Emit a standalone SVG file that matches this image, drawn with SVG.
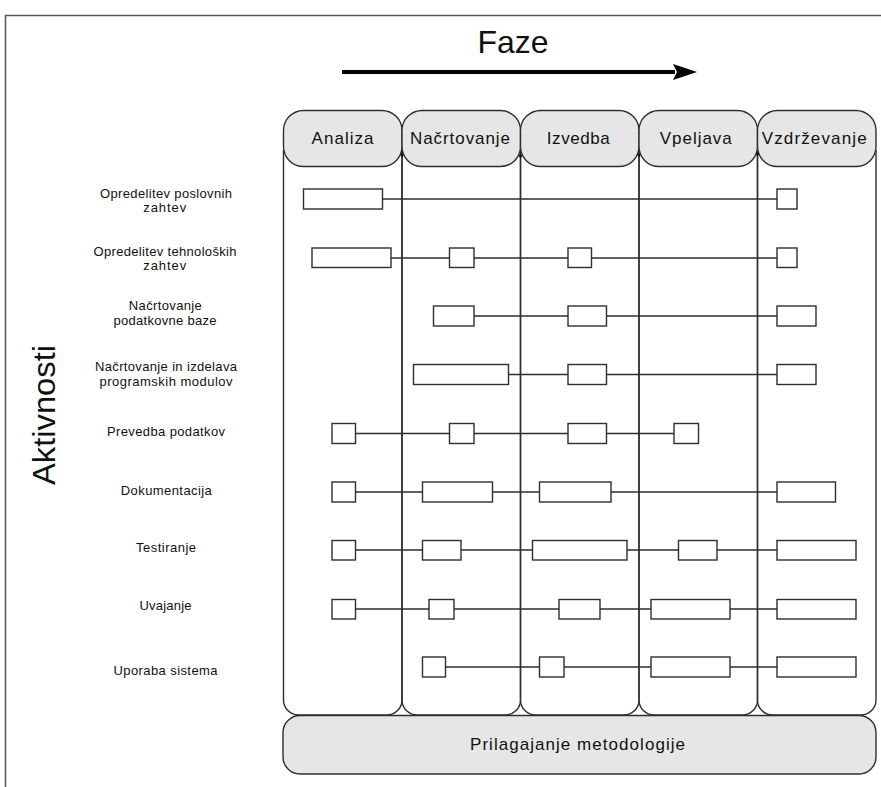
<svg xmlns="http://www.w3.org/2000/svg" width="881" height="787" viewBox="0 0 881 787">
<style>
.ln{fill:none;stroke:#2e2e2e;stroke-width:1.4}
.hdr{fill:#e6e6e6;stroke:#2e2e2e;stroke-width:1.4}
.bar{fill:#ffffff;stroke:#2e2e2e;stroke-width:1.4}
.con{stroke:#2e2e2e;stroke-width:1.4;fill:none}
.lbl{font-family:"Liberation Sans",Arial,sans-serif;font-size:13px;fill:#111;text-anchor:middle}
.ph{font-family:"Liberation Sans",Arial,sans-serif;font-size:17px;fill:#111;text-anchor:middle}
.big{font-family:"Liberation Sans",Arial,sans-serif;font-size:32px;fill:#111;text-anchor:middle}
.dot{fill:#111}
</style>
<defs>
<marker id="ah" viewBox="0 0 24 16" refX="2" refY="8" markerWidth="24" markerHeight="16" markerUnits="userSpaceOnUse" orient="auto">
<path d="M0,0 L24,8 L0,16 L4,8 Z" fill="#000"/>
</marker>
</defs>
<rect x="0" y="0" width="881" height="787" fill="#fff"/>
<path d="M5.5,787 V15.5 H881" fill="none" stroke="#555" stroke-width="1.5"/>

<g id="title">
<text class="big" x="513" y="53" textLength="71" lengthAdjust="spacingAndGlyphs">Faze</text>
<path d="M342,72 H675" stroke="#000" stroke-width="4" marker-end="url(#ah)"/>
</g>
<g id="axis-label">
<text class="big" transform="translate(55,415) rotate(-90)" textLength="140" lengthAdjust="spacingAndGlyphs">Aktivnosti</text>
</g>

<g id="columns">
<path class="ln" d="M283.5,150 V700 A15,15 0 0 0 298.5,715 H387 A15,15 0 0 0 402,700 V150"/>
<path class="ln" d="M402,150 V700 A15,15 0 0 0 417,715 H505.5 A15,15 0 0 0 520.5,700 V150"/>
<path class="ln" d="M520.5,150 V700 A15,15 0 0 0 535.5,715 H624 A15,15 0 0 0 639,700 V150"/>
<path class="ln" d="M639,150 V700 A15,15 0 0 0 654,715 H742.5 A15,15 0 0 0 757.5,700 V150"/>
<path class="ln" d="M757.5,150 V700 A15,15 0 0 0 772.5,715 H861 A15,15 0 0 0 876,700 V150"/>
</g>

<g id="phase-analiza">
<rect class="hdr" x="283.5" y="110.5" width="118.5" height="56" rx="20"/>
<text class="ph" x="342.5" y="144" textLength="62" lengthAdjust="spacing">Analiza</text>
</g>
<g id="phase-nacrtovanje">
<rect class="hdr" x="402" y="110.5" width="118.5" height="56" rx="20"/>
<text class="ph" x="460" y="144" textLength="100" lengthAdjust="spacing">Načrtovanje</text>
</g>
<g id="phase-izvedba">
<rect class="hdr" x="520.5" y="110.5" width="118.5" height="56" rx="20"/>
<text class="ph" x="578.3" y="144" textLength="63" lengthAdjust="spacing">Izvedba</text>
</g>
<g id="phase-vpeljava">
<rect class="hdr" x="639" y="110.5" width="118.5" height="56" rx="20"/>
<text class="ph" x="695.8" y="144" textLength="72" lengthAdjust="spacing">Vpeljava</text>
</g>
<g id="phase-vzdrzevanje">
<rect class="hdr" x="757.5" y="110.5" width="118.5" height="56" rx="20"/>
<text class="ph" x="814.2" y="144" textLength="105" lengthAdjust="spacing">Vzdrževanje</text>
</g>
<g id="junction-dots">
<circle class="dot" cx="402" cy="155" r="1.6"/>
<circle class="dot" cx="520.5" cy="156" r="1.6"/>
<circle class="dot" cx="639" cy="155" r="1.6"/>
<circle class="dot" cx="757.5" cy="154" r="1.6"/>
</g>

<g id="methodology">
<rect class="hdr" x="283" y="715.5" width="593" height="58.5" rx="17"/>
<text class="ph" x="577.5" y="750" textLength="215" lengthAdjust="spacing">Prilagajanje metodologije</text>
</g>

<g id="labels">
<g id="label-1"><text class="lbl" x="166" y="198" textLength="132" lengthAdjust="spacing">Opredelitev poslovnih</text><text class="lbl" x="164.7" y="212" textLength="43" lengthAdjust="spacing">zahtev</text></g>
<g id="label-2"><text class="lbl" x="165" y="256" textLength="143" lengthAdjust="spacing">Opredelitev tehnoloških</text><text class="lbl" x="164.7" y="270" textLength="43" lengthAdjust="spacing">zahtev</text></g>
<g id="label-3"><text class="lbl" x="165.3" y="310" textLength="73" lengthAdjust="spacing">Načrtovanje</text><text class="lbl" x="165" y="325" textLength="103" lengthAdjust="spacing">podatkovne baze</text></g>
<g id="label-4"><text class="lbl" x="166" y="371" textLength="142" lengthAdjust="spacing">Načrtovanje in izdelava</text><text class="lbl" x="166" y="386" textLength="133" lengthAdjust="spacing">programskih modulov</text></g>
<g id="label-5"><text class="lbl" x="166" y="436" textLength="118" lengthAdjust="spacing">Prevedba podatkov</text></g>
<g id="label-6"><text class="lbl" x="166.3" y="495" textLength="91" lengthAdjust="spacing">Dokumentacija</text></g>
<g id="label-7"><text class="lbl" x="166" y="552" textLength="60" lengthAdjust="spacing">Testiranje</text></g>
<g id="label-8"><text class="lbl" x="165.5" y="610" textLength="52" lengthAdjust="spacing">Uvajanje</text></g>
<g id="label-9"><text class="lbl" x="165.5" y="675" textLength="104" lengthAdjust="spacing">Uporaba sistema</text></g>
</g>

<g id="connectors">
<path class="con" d="M382.5,199 H777"/>
<path class="con" d="M391,258 H449.5 M474,258 H568 M591.5,258 H777"/>
<path class="con" d="M474,316 H568 M606.5,316 H777"/>
<path class="con" d="M508.5,374.5 H568 M606.5,374.5 H777"/>
<path class="con" d="M355.5,433.5 H449.5 M474,433.5 H568 M606.5,433.5 H674"/>
<path class="con" d="M355.5,492 H422.5 M492.5,492 H539.5 M611,492 H777"/>
<path class="con" d="M355.5,550 H422.5 M461,550 H532.5 M627,550 H678.5 M717,550 H777"/>
<path class="con" d="M355.5,609 H429 M454,609 H559 M600,609 H651 M730,609 H777"/>
<path class="con" d="M445.5,667 H539.5 M564,667 H651 M730,667 H777"/>
</g>

<g id="bars-1"><rect class="bar" x="303.5" y="189" width="79" height="20"/><rect class="bar" x="777" y="189" width="20" height="20"/></g>
<g id="bars-2"><rect class="bar" x="312" y="248" width="79" height="19.5"/><rect class="bar" x="449.5" y="248" width="24.5" height="19.5"/><rect class="bar" x="568" y="248" width="23.5" height="19.5"/><rect class="bar" x="777" y="248" width="20" height="19.5"/></g>
<g id="bars-3"><rect class="bar" x="433.5" y="306" width="40.5" height="20"/><rect class="bar" x="568" y="306" width="38.5" height="20"/><rect class="bar" x="777" y="306" width="39" height="20"/></g>
<g id="bars-4"><rect class="bar" x="413.5" y="364.5" width="95" height="20"/><rect class="bar" x="568" y="364.5" width="38.5" height="20"/><rect class="bar" x="777" y="364.5" width="39" height="20"/></g>
<g id="bars-5"><rect class="bar" x="332" y="423.5" width="23.5" height="20"/><rect class="bar" x="449.5" y="423.5" width="24.5" height="20"/><rect class="bar" x="568" y="423.5" width="38.5" height="20"/><rect class="bar" x="674" y="423.5" width="24.5" height="20"/></g>
<g id="bars-6"><rect class="bar" x="332" y="482" width="23.5" height="20"/><rect class="bar" x="422.5" y="482" width="70" height="20"/><rect class="bar" x="539.5" y="482" width="71.5" height="20"/><rect class="bar" x="777" y="482" width="58.5" height="20"/></g>
<g id="bars-7"><rect class="bar" x="332" y="540.5" width="23.5" height="19.5"/><rect class="bar" x="422.5" y="540.5" width="38.5" height="19.5"/><rect class="bar" x="532.5" y="540.5" width="94.5" height="19.5"/><rect class="bar" x="678.5" y="540.5" width="38.5" height="19.5"/><rect class="bar" x="777" y="540.5" width="79" height="19.5"/></g>
<g id="bars-8"><rect class="bar" x="332" y="599.5" width="23.5" height="19.5"/><rect class="bar" x="429" y="599.5" width="25" height="19.5"/><rect class="bar" x="559" y="599.5" width="41" height="19.5"/><rect class="bar" x="651" y="599.5" width="79" height="19.5"/><rect class="bar" x="777" y="599.5" width="79" height="19.5"/></g>
<g id="bars-9"><rect class="bar" x="422.5" y="657" width="23" height="20"/><rect class="bar" x="539.5" y="657" width="24.5" height="20"/><rect class="bar" x="651" y="657" width="79" height="20"/><rect class="bar" x="777" y="657" width="79" height="20"/></g>
</svg>
